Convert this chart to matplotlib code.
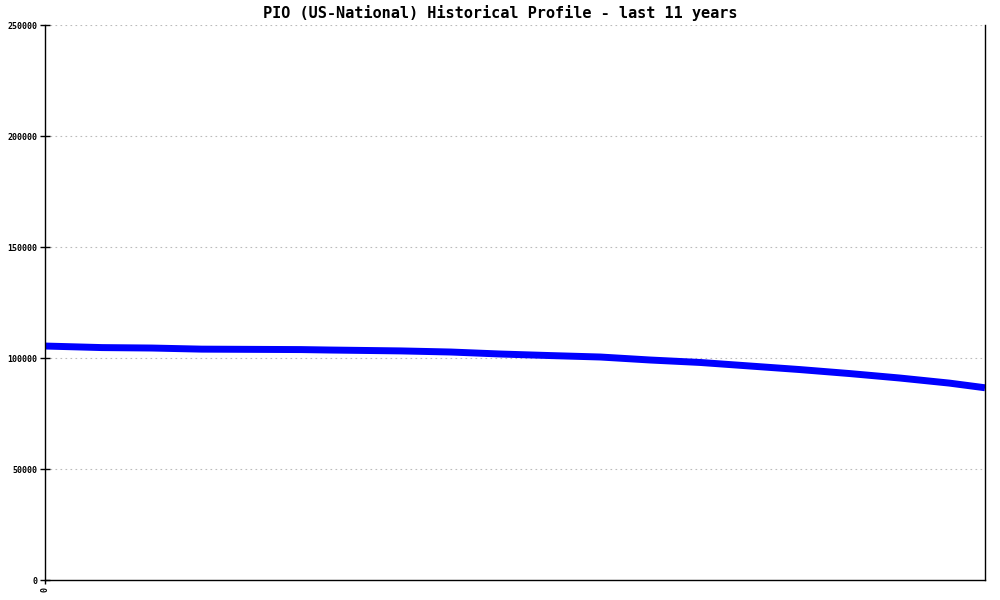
import matplotlib
matplotlib.use('Agg')
import matplotlib.pyplot as plt

# months since start of the 11-year window
months = [0, 8, 15, 22, 36, 40, 50, 57, 64, 71, 78, 85, 92, 99, 106, 113, 120, 127, 132]
values = [105400, 104700, 104500, 104000, 103800, 103600, 103200, 102700, 101800, 101100,
          100450, 99100, 98000, 96400, 94800, 93000, 91000, 88700, 86600]

title = 'PIO (US-National) Historical Profile - last 11 years'
yticks = [0, 50000, 100000, 150000, 200000, 250000]

plt.rcParams['font.family'] = ['DejaVu Sans Mono']

fig = plt.figure(figsize=(10, 6), dpi=100)
ax = fig.add_axes([0.045, 0.0333, 0.94, 0.925])

ax.plot(months, values, color='#0000ff', linewidth=5, solid_capstyle='butt')

ax.set_xlim(0, months[-1])
ax.set_ylim(0, 250000)
ax.set_yticks(yticks)
ax.set_yticklabels([str(v) for v in yticks], fontsize=6, fontweight='bold')
ax.set_xticks([0])
ax.set_xticklabels(['0'], fontsize=6, rotation=90, fontweight='bold')

for v in yticks[1:]:
    ax.axhline(v, color='#bbbbbb', linestyle=(0, (1.5, 3)), linewidth=0.8, zorder=0)

ax.spines['top'].set_visible(False)
for s in ['left', 'right', 'bottom']:
    ax.spines[s].set_linewidth(1.0)
ax.tick_params(axis='y', direction='inout', length=6.5, width=1, pad=2)
ax.tick_params(axis='x', direction='out', length=3, width=1, pad=2)

fig.text(0.5, 0.978, title, ha='center', va='center', fontsize=11, fontweight='bold')

fig.savefig('out.png', dpi=100)
